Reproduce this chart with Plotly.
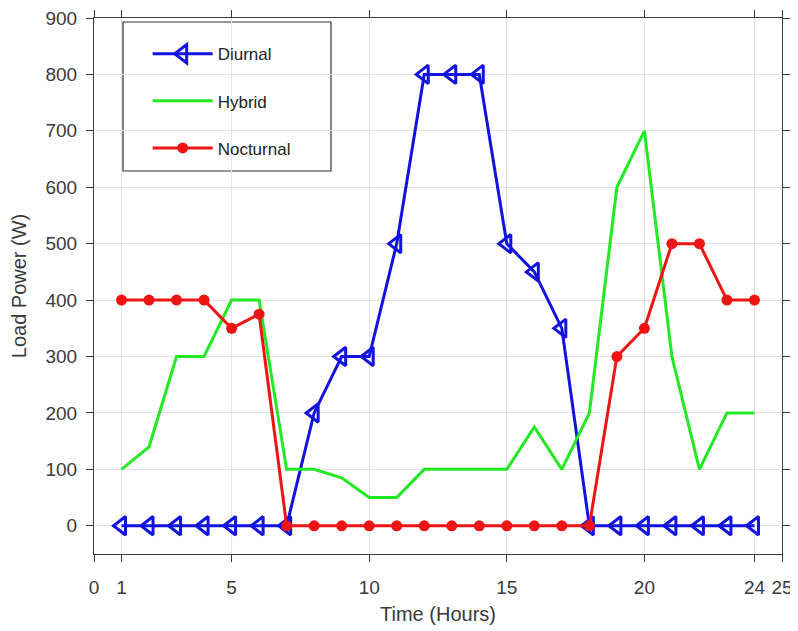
import plotly.graph_objects as go

hours = list(range(1, 25))
diurnal = [0, 0, 0, 0, 0, 0, 0, 200, 300, 300, 500, 800, 800, 800, 500, 450, 350, 0, 0, 0, 0, 0, 0, 0]
hybrid = [100, 140, 300, 300, 400, 400, 100, 100, 85, 50, 50, 100, 100, 100, 100, 175, 100, 200, 600, 700, 300, 100, 200, 200]
nocturnal = [400, 400, 400, 400, 350, 375, 0, 0, 0, 0, 0, 0, 0, 0, 0, 0, 0, 0, 300, 350, 500, 500, 400, 400]

x_ticks = [0, 1, 5, 10, 15, 20, 24, 25]
y_ticks = [0, 100, 200, 300, 400, 500, 600, 700, 800, 900]

BLUE = "#1212e0"
GREEN = "#22ea22"
RED = "#ee1414"
FONT = "Liberation Sans, Arial, sans-serif"
TXT = "#3a3a3a"

fig = go.Figure()
fig.add_trace(go.Scatter(
    x=hours, y=diurnal, name="Diurnal", mode="lines+markers",
    line=dict(color=BLUE, width=3),
    marker=dict(symbol="triangle-left-open", size=16, color=BLUE, line=dict(width=3, color=BLUE)),
    legendgroup="a"))
fig.add_trace(go.Scatter(
    x=hours, y=hybrid, name="Hybrid", mode="lines",
    line=dict(color=GREEN, width=3), legendgroup="b"))
fig.add_trace(go.Scatter(
    x=hours, y=nocturnal, name="Nocturnal", mode="lines+markers",
    line=dict(color=RED, width=3),
    marker=dict(symbol="circle", size=11, color=RED),
    legendgroup="c"))

axis_common = dict(
    showgrid=True, gridcolor="#e3e3e3", gridwidth=1,
    showline=True, linecolor="#3a3a3a", linewidth=1.2, mirror="ticks",
    ticks="outside", ticklen=7, tickcolor="#3a3a3a", tickwidth=1.2,
    zeroline=False, automargin=False, ticklabeloverflow="allow",
    tickfont=dict(family=FONT, size=19, color=TXT),
)

# page body has an 8px margin, so the figure is offset by 8px
fig.update_layout(
    width=798, height=631,
    margin=dict(l=86, r=24, t=10, b=85),
    paper_bgcolor="white", plot_bgcolor="white",
    showlegend=True,
    legend=dict(
        x=0.078, y=0.966, xanchor="left", yanchor="top",
        bgcolor="rgba(0,0,0,0)", borderwidth=0,
        font=dict(family=FONT, size=17, color="#222222"),
        tracegroupgap=22, itemwidth=60,
    ),
    shapes=[dict(type="rect", xref="paper", yref="paper",
                 x0=29/688, x1=237/688, y0=(554-171)/536, y1=(554-22)/536,
                 line=dict(color="#333333", width=1.2), fillcolor="white", layer="below")],
)
fig.update_xaxes(range=[0, 25], tickvals=x_ticks, ticktext=[str(t) for t in x_ticks],
                 ticklabelstandoff=9,
                 title=dict(text="Time (Hours)", font=dict(family=FONT, size=20, color=TXT), standoff=10),
                 **axis_common)
fig.update_yaxes(range=[-50, 900], tickvals=y_ticks, ticklabelstandoff=5,
                 title=dict(text="Load Power (W)", font=dict(family=FONT, size=20, color=TXT), standoff=15),
                 **axis_common)

fig.write_html("out.html")
